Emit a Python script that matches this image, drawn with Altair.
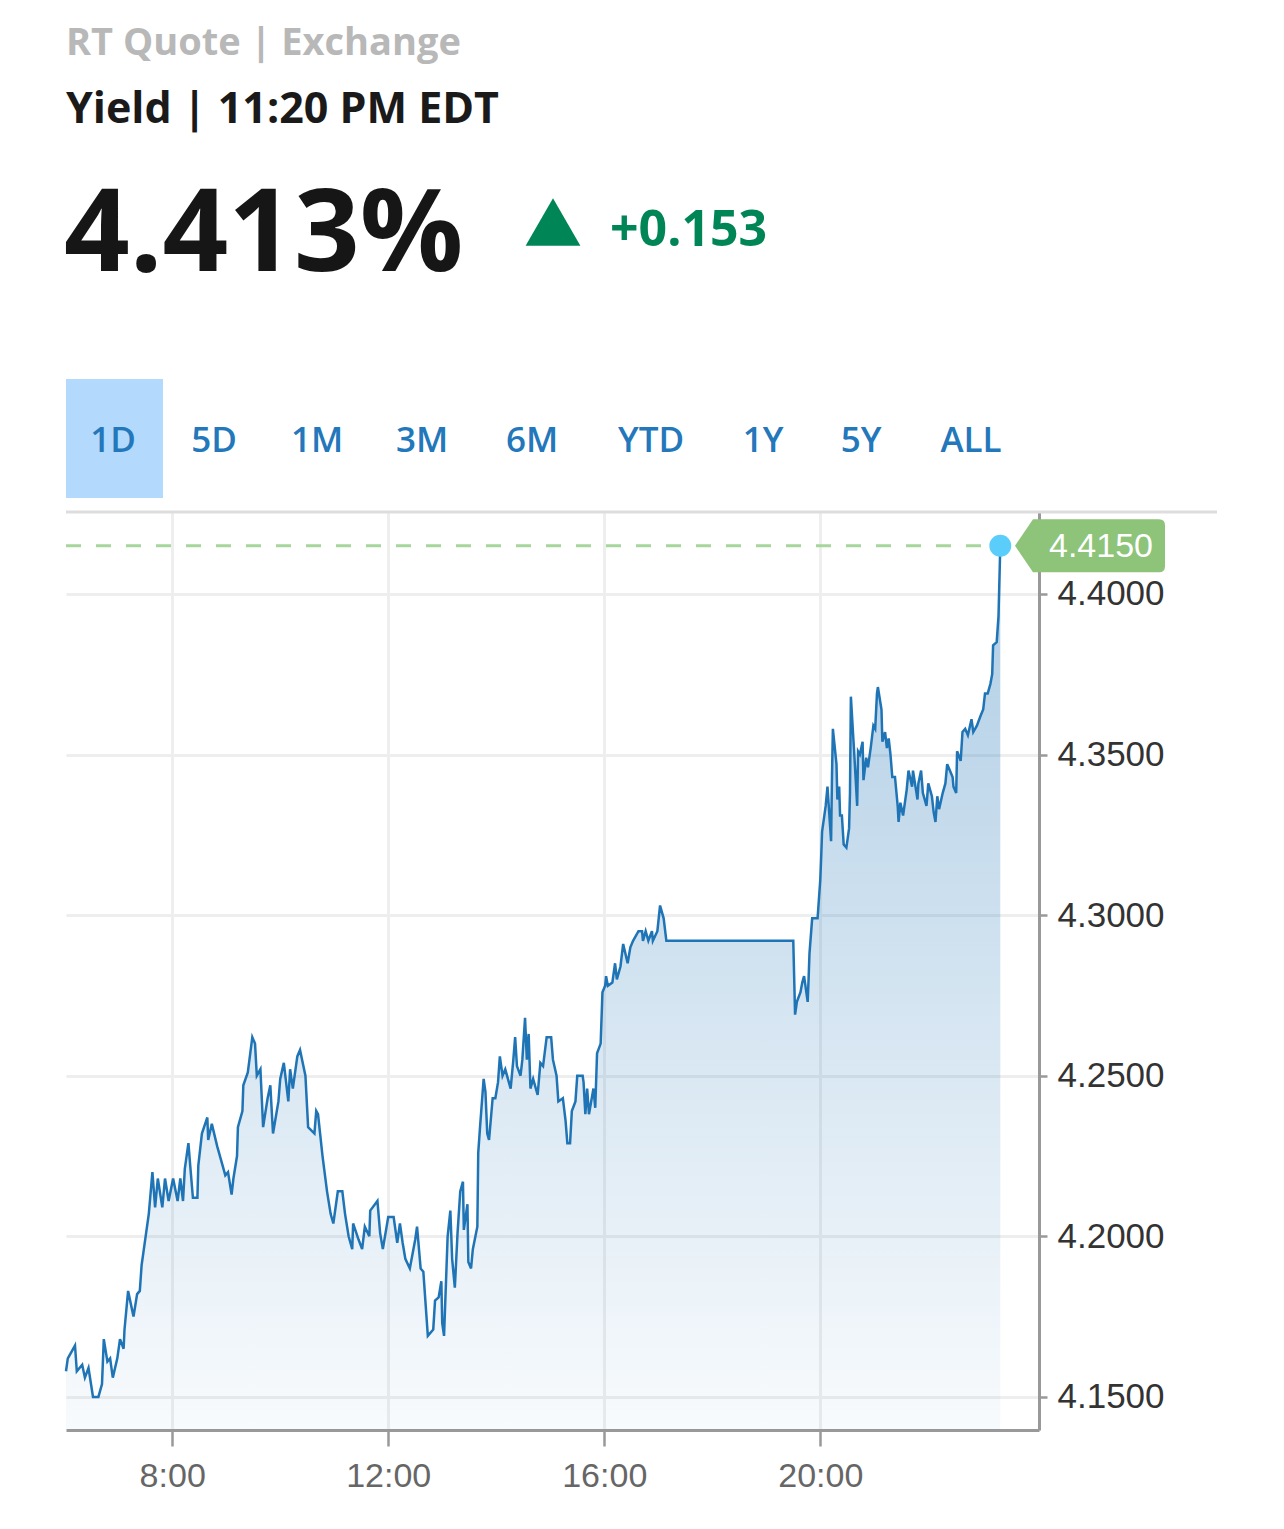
import altair as alt
import pandas as pd

# ---------------- data ----------------
TIMES = [
    "6:02", "6:04", "6:12", "6:14", "6:20", "6:23", "6:27", "6:32", "6:38", "6:42",
    "6:44", "6:48", "6:51", "6:54", "6:59", "7:02", "7:06", "7:07", "7:10", "7:11",
    "7:17", "7:21", "7:24", "7:26", "7:28", "7:32", "7:34", "7:38", "7:41", "7:44",
    "7:49", "7:52", "7:56", "8:01", "8:06", "8:09", "8:12", "8:14", "8:18", "8:20",
    "8:23", "8:28", "8:29", "8:33", "8:39", "8:40", "8:44", "8:50", "8:56", "8:59",
    "9:02", "9:06", "9:08", "9:12", "9:13", "9:18", "9:19", "9:24", "9:29", "9:32",
    "9:34", "9:38", "9:41", "9:46", "9:49", "9:52", "9:58", "10:00", "10:04", "10:09",
    "10:11", "10:14", "10:19", "10:22", "10:28", "10:31", "10:38", "10:40", "10:42", "10:47",
    "10:52", "10:56", "10:59", "11:04", "11:09", "11:12", "11:16", "11:20", "11:21", "11:27",
    "11:31", "11:34", "11:39", "11:40", "11:48", "11:51", "11:54", "12:00", "12:06", "12:10",
    "12:13", "12:16", "12:19", "12:24", "12:30", "12:32", "12:36", "12:39", "12:41", "12:44",
    "12:50", "12:52", "12:56", "12:59", "13:00", "13:02", "13:06", "13:09", "13:11", "13:14",
    "13:17", "13:20", "13:23", "13:24", "13:28", "13:29", "13:32", "13:34", "13:39", "13:40",
    "13:42", "13:46", "13:48", "13:50", "13:52", "13:56", "13:59", "14:02", "14:04", "14:07",
    "14:10", "14:16", "14:19", "14:21", "14:23", "14:27", "14:29", "14:32", "14:34", "14:36",
    "14:38", "14:41", "14:46", "14:49", "14:52", "14:56", "15:01", "15:03", "15:07", "15:09",
    "15:14", "15:17", "15:19", "15:22", "15:24", "15:28", "15:30", "15:36", "15:37", "15:39",
    "15:41", "15:43", "15:48", "15:50", "15:52", "15:56", "15:57", "15:58", "16:01", "16:02",
    "16:04", "16:09", "16:12", "16:14", "16:18", "16:21", "16:26", "16:29", "16:32", "16:38",
    "16:42", "16:43", "16:46", "16:49", "16:53", "16:54", "16:59", "17:02", "17:06", "17:09",
    "19:30", "19:32", "19:34", "19:38", "19:40", "19:42", "19:46", "19:47", "19:48", "19:51",
    "19:57", "20:00", "20:01", "20:02", "20:06", "20:08", "20:12", "20:13", "20:14", "20:18",
    "20:19", "20:21", "20:22", "20:24", "20:26", "20:29", "20:32", "20:33", "20:34", "20:38",
    "20:41", "20:42", "20:44", "20:47", "20:48", "20:51", "20:53", "20:56", "20:59", "21:01",
    "21:03", "21:04", "21:08", "21:09", "21:12", "21:14", "21:16", "21:18", "21:20", "21:23",
    "21:26", "21:27", "21:29", "21:32", "21:36", "21:38", "21:42", "21:43", "21:48", "21:49",
    "21:52", "21:54", "21:58", "22:00", "22:04", "22:06", "22:08", "22:10", "22:12", "22:16",
    "22:19", "22:21", "22:24", "22:27", "22:28", "22:31", "22:32", "22:36", "22:38", "22:41",
    "22:44", "22:48", "22:50", "22:54", "22:58", "23:01", "23:03", "23:06", "23:09", "23:11",
    "23:12", "23:16", "23:18", "23:20",
]

YIELDS = [
    4.158, 4.162, 4.166, 4.158, 4.160, 4.156, 4.159, 4.150, 4.150, 4.154,
    4.168, 4.161, 4.162, 4.156, 4.162, 4.168, 4.165, 4.171, 4.180, 4.183,
    4.175, 4.182, 4.183, 4.191, 4.195, 4.203, 4.207, 4.220, 4.209, 4.218,
    4.209, 4.218, 4.211, 4.218, 4.211, 4.218, 4.211, 4.221, 4.229, 4.222,
    4.212, 4.212, 4.222, 4.232, 4.237, 4.230, 4.235, 4.228, 4.222, 4.219,
    4.220, 4.213, 4.218, 4.225, 4.234, 4.239, 4.247, 4.251, 4.262, 4.260,
    4.250, 4.252, 4.234, 4.243, 4.247, 4.232, 4.242, 4.249, 4.254, 4.242,
    4.252, 4.246, 4.256, 4.258, 4.250, 4.234, 4.232, 4.239, 4.238, 4.225,
    4.214, 4.207, 4.204, 4.214, 4.214, 4.207, 4.200, 4.196, 4.204, 4.199,
    4.196, 4.203, 4.200, 4.208, 4.211, 4.201, 4.196, 4.206, 4.206, 4.198,
    4.204, 4.198, 4.193, 4.190, 4.199, 4.203, 4.190, 4.189, 4.181, 4.169,
    4.171, 4.180, 4.181, 4.186, 4.173, 4.169, 4.200, 4.208, 4.193, 4.184,
    4.201, 4.214, 4.217, 4.202, 4.210, 4.192, 4.190, 4.196, 4.203, 4.226,
    4.234, 4.249, 4.245, 4.232, 4.230, 4.243, 4.243, 4.248, 4.256, 4.250,
    4.252, 4.246, 4.255, 4.262, 4.253, 4.250, 4.255, 4.268, 4.255, 4.263,
    4.246, 4.249, 4.244, 4.254, 4.253, 4.262, 4.262, 4.255, 4.250, 4.242,
    4.243, 4.236, 4.229, 4.229, 4.239, 4.242, 4.250, 4.250, 4.248, 4.238,
    4.246, 4.238, 4.246, 4.240, 4.257, 4.260, 4.268, 4.276, 4.278, 4.281,
    4.278, 4.279, 4.285, 4.280, 4.284, 4.291, 4.285, 4.290, 4.292, 4.295,
    4.295, 4.292, 4.295, 4.292, 4.295, 4.292, 4.295, 4.303, 4.299, 4.292,
    4.292, 4.269, 4.273, 4.276, 4.279, 4.281, 4.273, 4.280, 4.288, 4.299,
    4.299, 4.311, 4.318, 4.326, 4.334, 4.340, 4.323, 4.343, 4.358, 4.347,
    4.336, 4.340, 4.331, 4.331, 4.322, 4.321, 4.327, 4.338, 4.368, 4.349,
    4.334, 4.351, 4.350, 4.354, 4.342, 4.349, 4.346, 4.352, 4.359, 4.358,
    4.369, 4.371, 4.364, 4.354, 4.357, 4.352, 4.355, 4.350, 4.343, 4.343,
    4.334, 4.329, 4.335, 4.331, 4.339, 4.345, 4.340, 4.345, 4.336, 4.341,
    4.345, 4.338, 4.334, 4.341, 4.337, 4.332, 4.329, 4.337, 4.333, 4.338,
    4.341, 4.347, 4.345, 4.343, 4.340, 4.338, 4.351, 4.348, 4.357, 4.358,
    4.356, 4.361, 4.357, 4.359, 4.362, 4.364, 4.369, 4.369, 4.372, 4.375,
    4.384, 4.385, 4.393, 4.415,
]

X_DOMAIN = ["6:02", "24:03"]
Y_DOMAIN = [4.1397, 4.4255]
Y_TICKS = [4.15, 4.20, 4.25, 4.30, 4.35, 4.40]
X_TICKS = [8, 12, 16, 20]

SOURCE_LINE = "RT Quote | Exchange"
TIME_LINE = "Yield | 11:20 PM EDT"
PRICE_TEXT = "4.413%"
CHANGE_TEXT = "+0.153"
TABS = ["1D", "5D", "1M", "3M", "6M", "YTD", "1Y", "5Y", "ALL"]

assert len(TIMES) == len(YIELDS)


def to_hours(s):
    h, m = s.split(":")
    return int(h) + int(m) / 60.0


df = pd.DataFrame({"time": TIMES, "yield": YIELDS})
df["hours"] = df["time"].map(to_hours)
df["base"] = Y_DOMAIN[0]
last = df.tail(1).reset_index(drop=True)
dash_df = pd.DataFrame({
    "hours": [to_hours(X_DOMAIN[0]), last["hours"][0]],
    "yield": [last["yield"][0], last["yield"][0]],
})

# ---------------- layout / style ----------------
W, H = 973, 918
AX_FONT = "Liberation Sans"
HEAD_FONT = "Open Sans"
TAB_X = [47, 148, 251, 356, 466, 585, 697, 795, 905]

x_enc = alt.X(
    "hours:Q",
    scale=alt.Scale(domain=[to_hours(v) for v in X_DOMAIN], nice=False, zero=False),
    axis=alt.Axis(
        values=X_TICKS, labelExpr="datum.value + ':00'", title=None,
        grid=True, gridColor="#eeeeee", gridWidth=3,
        tickSize=16, tickColor="#999999", tickWidth=2.5,
        domainColor="#999999", domainWidth=3,
        labelFont=AX_FONT, labelFontSize=34, labelColor="#666666",
        labelPadding=13, labelFlush=False, labelOverlap=False,
    ),
)
y_enc = alt.Y(
    "yield:Q",
    scale=alt.Scale(domain=Y_DOMAIN, nice=False, zero=False),
    axis=alt.Axis(
        orient="right", values=Y_TICKS, format=".4f", title=None,
        grid=True, gridColor="#eeeeee", gridWidth=3,
        tickSize=8, tickColor="#999999", tickWidth=2.5,
        domainColor="#999999", domainWidth=3,
        labelFont=AX_FONT, labelFontSize=35, labelColor="#333333",
        labelPadding=10, labelFlush=False, labelOverlap=False,
    ),
)

gradient = alt.Gradient(
    gradient="linear",
    stops=[
        alt.GradientStop(color="rgba(31,116,182,0.03)", offset=0),
        alt.GradientStop(color="rgba(31,116,182,0.36)", offset=1),
    ],
    x1=1, x2=1, y1=1, y2=0,
)

area = alt.Chart(df).mark_area(color=gradient, orient="vertical", opacity=1).encode(
    x=x_enc, y=y_enc, y2=alt.Y2("base:Q")
)
line = alt.Chart(df).mark_line(color="#1f74b6", strokeWidth=2.5).encode(x=x_enc, y=y_enc)
dash = alt.Chart(dash_df).mark_line(
    color="#a6d69b", strokeWidth=3, strokeDash=[15, 15]
).encode(x=x_enc, y=y_enc)
dot = alt.Chart(last).mark_circle(size=480, color="#5bcdfa", opacity=1).encode(x=x_enc, y=y_enc)

BADGE_PATH = ("M-1,0 L-0.76,-0.353 L0.92,-0.353 Q1,-0.353 1,-0.273 L1,0.273 "
              "Q1,0.353 0.92,0.353 L-0.76,0.353 Z")
badge = alt.Chart(last).mark_point(
    shape=BADGE_PATH, size=22500, filled=True, color="#8dc47a", opacity=1, strokeWidth=0
).encode(x=alt.value(1024), y=y_enc)
badge_text = alt.Chart(last).mark_text(
    font=AX_FONT, fontSize=34, color="white", align="center", baseline="middle", dy=1
).encode(x=alt.value(1035), y=y_enc, text=alt.Text("yield:Q", format=".4f"))


def one():
    return alt.Chart(pd.DataFrame({"k": [0]}))


top_border = one().mark_rule(color="#dddddd", strokeWidth=3).encode(
    x=alt.value(0), x2=alt.value(1151), y=alt.value(0)
)
tab_box = one().mark_rect(color="#b3d9fc").encode(
    x=alt.value(0), x2=alt.value(97), y=alt.value(-133), y2=alt.value(-14)
)
tab_layers = [
    one().mark_text(text=t, font=HEAD_FONT, fontSize=35, fontWeight=600,
                    color="#2377bb", align="center", baseline="alphabetic").encode(
        x=alt.value(px), y=alt.value(-60))
    for t, px in zip(TABS, TAB_X)
]

src = one().mark_text(text=SOURCE_LINE, font=HEAD_FONT, fontSize=38, fontWeight="bold",
                      color="#b8b8b8", align="left", baseline="alphabetic").encode(
    x=alt.value(0), y=alt.value(-457))
tline = one().mark_text(text=TIME_LINE, font=HEAD_FONT, fontSize=43, fontWeight="bold",
                        color="#1a1a1a", align="left", baseline="alphabetic").encode(
    x=alt.value(0), y=alt.value(-389))
price = one().mark_text(text=PRICE_TEXT, font=HEAD_FONT, fontSize=115, fontWeight="bold",
                        color="#161616", align="left", baseline="alphabetic").encode(
    x=alt.value(-2), y=alt.value(-241))
tri = one().mark_point(shape="triangle-up", size=3000, filled=True, color="#008557",
                       opacity=1, strokeWidth=0).encode(x=alt.value(487), y=alt.value(-290))
change = one().mark_text(text=CHANGE_TEXT, font=HEAD_FONT, fontSize=50, fontWeight="bold",
                         color="#008557", align="left", baseline="alphabetic").encode(
    x=alt.value(544), y=alt.value(-266))

chart = alt.layer(
    area, line, dash, dot, badge, badge_text,
    top_border, tab_box, *tab_layers, src, tline, price, tri, change,
).properties(
    width=W, height=H,
    padding={"left": 58, "top": 504, "right": 200, "bottom": 90},
    autosize=alt.AutoSizeParams(type="none"),
).configure_view(strokeWidth=0)

chart.save("out.html", embed_options={"renderer": "svg", "actions": False})
